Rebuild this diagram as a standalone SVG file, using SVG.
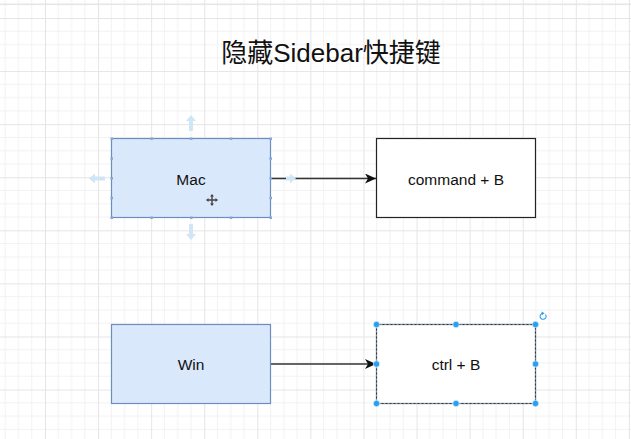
<svg xmlns="http://www.w3.org/2000/svg" width="631" height="439" viewBox="0 0 631 439">
<style>
.lbl{font-family:"Liberation Sans",Arial,"Noto Sans CJK SC",sans-serif;font-size:15.5px;fill:#111;text-anchor:middle}
.title{font-family:"Liberation Sans",Arial,"Noto Sans CJK SC",sans-serif;font-size:26px;fill:#111;text-anchor:middle}
.blue{fill:#dae8fc;stroke:#6c8ebf;stroke-width:1.2}
.plain{fill:#fff;stroke:#222;stroke-width:1.2}
.conn{stroke:#333;stroke-width:1.3;fill:none}
.cp{fill:#7fa9dc}
.hint{fill:#cfe6f6}
.h{fill:#2a9ff0;stroke:#fff;stroke-width:0.6}
</style>
<defs>
<pattern id="grid" patternUnits="userSpaceOnUse" x="45" y="18" width="53.08" height="53.08">
<path d="M13.27 0V53.08M26.54 0V53.08M39.81 0V53.08M0 13.27H53.08M0 26.54H53.08M0 39.81H53.08" stroke="#f2f2f2" stroke-width="1"/>
<path d="M0.5 0V53.08M0 0.5H53.08" stroke="#e5e5e5" stroke-width="1"/>
</pattern>
<marker id="arr" markerWidth="12" markerHeight="10" refX="11" refY="5" orient="auto" markerUnits="userSpaceOnUse">
<path d="M0 0L11 5L0 10L3 5Z" fill="#111"/>
</marker>
</defs>
<rect width="631" height="439" fill="#fff"/>
<rect width="631" height="439" fill="url(#grid)"/>
<rect x="0" y="3.5" width="631" height="1.5" fill="#e6e6e6"/>

<g id="title"><text class="title" x="331" y="62">隐藏Sidebar快捷键</text></g>

<g id="connectors">
<path class="conn" d="M270.5 178.5H376" marker-end="url(#arr)"/>
<path class="conn" d="M270.5 364H376" marker-end="url(#arr)"/>
</g>

<g id="node-mac">
<path class="hint" d="M191 115l-5 6h3v10h4v-10h3z"/>
<path class="hint" d="M191 240l-5 -6h3v-10h4v10h3z"/>
<path class="hint" d="M89 178.5l6 -5v3h10v4h-10v3z"/>
<path class="hint" d="M296 178.5l-6 -5v3h-4v4h4v3z"/>
<rect class="blue" x="111.5" y="138.5" width="159" height="79"/>
<g class="cp">
<rect x="110.5" y="137.5" width="2.5" height="2.5"/><rect x="150.3" y="137.5" width="2.5" height="2.5"/><rect x="190" y="137.5" width="2.5" height="2.5"/><rect x="229.8" y="137.5" width="2.5" height="2.5"/><rect x="269.5" y="137.5" width="2.5" height="2.5"/>
<rect x="110.5" y="216.5" width="2.5" height="2.5"/><rect x="150.3" y="216.5" width="2.5" height="2.5"/><rect x="190" y="216.5" width="2.5" height="2.5"/><rect x="229.8" y="216.5" width="2.5" height="2.5"/><rect x="269.5" y="216.5" width="2.5" height="2.5"/>
<rect x="110.5" y="157.3" width="2.5" height="2.5"/><rect x="110.5" y="177" width="2.5" height="2.5"/><rect x="110.5" y="196.8" width="2.5" height="2.5"/>
<rect x="269.5" y="157.3" width="2.5" height="2.5"/><rect x="269.5" y="177" width="2.5" height="2.5"/><rect x="269.5" y="196.8" width="2.5" height="2.5"/>
</g>
<text class="lbl" x="191" y="185">Mac</text>
<path d="M212 195v10M207 200h10" stroke="#444" stroke-width="1.4"/>
<path d="M212 194l-2 2.5h4zM212 206l-2 -2.5h4zM206 200l2.5 -2v4zM218 200l-2.5 -2v4z" fill="#444"/>
</g>

<g id="node-command">
<rect class="plain" x="376.5" y="138.5" width="159" height="79"/>
<text class="lbl" x="456" y="185">command + B</text>
</g>

<g id="node-win">
<rect class="blue" x="111.5" y="324.5" width="159" height="79"/>
<text class="lbl" x="191" y="370">Win</text>
</g>

<g id="node-ctrl">
<rect x="376.5" y="324.5" width="159" height="79" fill="#fff" stroke="#333" stroke-width="1.2"/>
<rect x="376.5" y="324.5" width="159" height="79" fill="none" stroke="#8fb4e0" stroke-width="0.8" stroke-dasharray="2 2"/>
<text class="lbl" x="456" y="370">ctrl + B</text>
<circle class="h" cx="376.5" cy="324.5" r="3.2"/><circle class="h" cx="456" cy="324.5" r="3.2"/><circle class="h" cx="535.5" cy="324.5" r="3.2"/>
<circle class="h" cx="376.5" cy="364" r="3.2"/><circle class="h" cx="535.5" cy="364" r="3.2"/>
<circle class="h" cx="376.5" cy="403.5" r="3.2"/><circle class="h" cx="456" cy="403.5" r="3.2"/><circle class="h" cx="535.5" cy="403.5" r="3.2"/>
<path d="M545.5 314.5a3 3 0 1 1 -2.2 -1.2" fill="none" stroke="#2a9ff0" stroke-width="1.1"/>
<path d="M541.5 311.5l3 1.8l-2.6 2z" fill="#2a9ff0"/>
</g>
</svg>
